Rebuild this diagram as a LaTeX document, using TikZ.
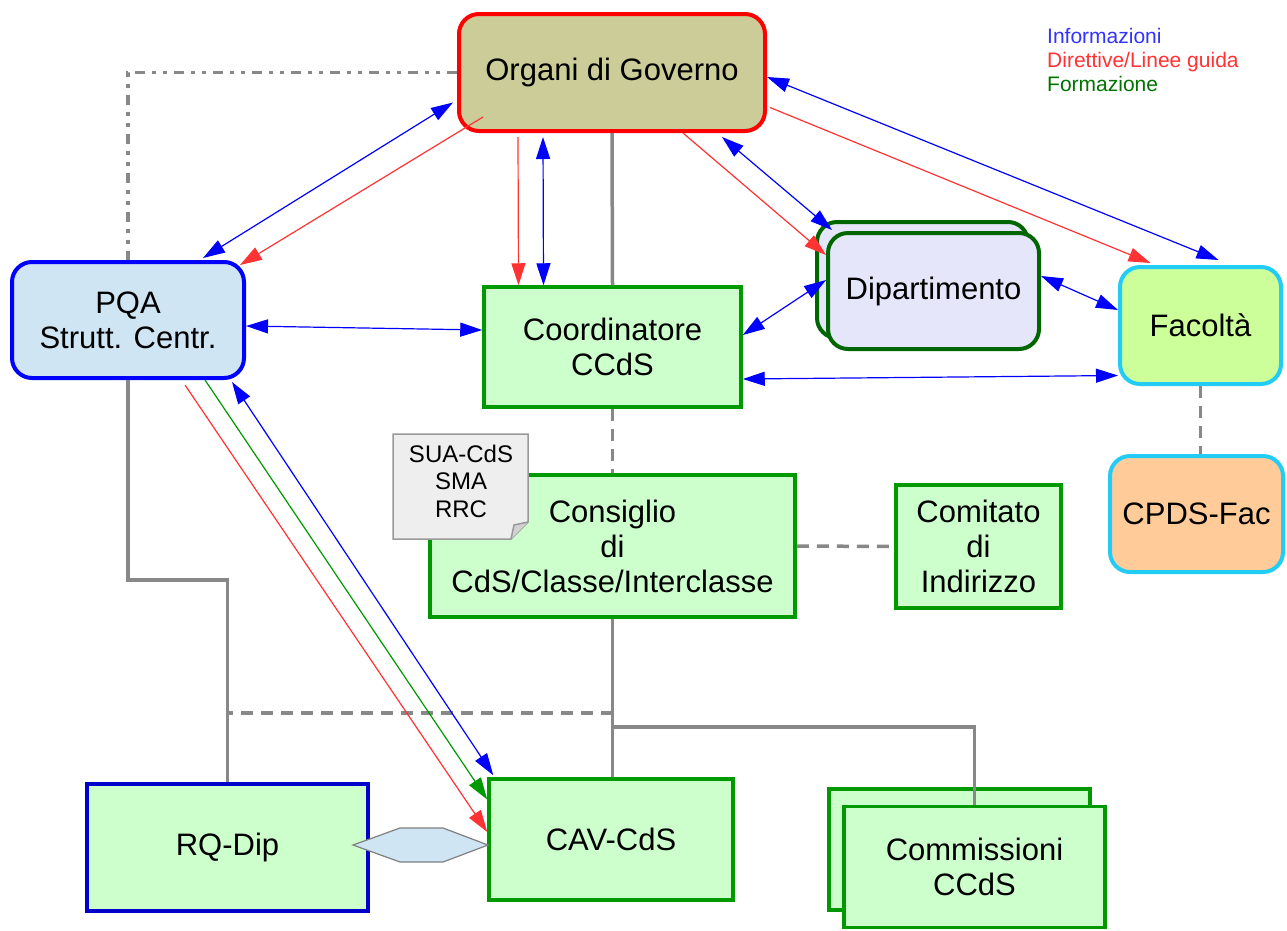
\documentclass[tikz,border=0pt]{standalone}
\usepackage{fontspec}
\setmainfont{Liberation Sans}
\usetikzlibrary{arrows.meta,calc}

\definecolor{govfill}{HTML}{CCCC99}
\definecolor{pqafill}{HTML}{CFE5F4}
\definecolor{boxgreen}{HTML}{009900}
\definecolor{greenfill}{HTML}{CCFFCC}
\definecolor{dipgreen}{HTML}{006600}
\definecolor{dipfill}{HTML}{E6E6FA}
\definecolor{faccyan}{HTML}{22CCF5}
\definecolor{facfill}{HTML}{CCFF99}
\definecolor{cpdsfill}{HTML}{FFCC99}
\definecolor{linegray}{HTML}{888888}
\definecolor{notefill}{HTML}{EEEEEE}
\definecolor{infoblue}{HTML}{0000FF}
\definecolor{dirred}{HTML}{FF3333}
\definecolor{formgreen}{HTML}{009900}

\begin{document}
\begin{tikzpicture}[x=1pt, y=-1pt,
    >={Triangle[length=22pt,width=14pt]},
    box/.style={draw, line width=4pt, align=center, inner sep=0pt,
        font=\fontsize{31}{35}\selectfont},
    roundbox/.style={box, rounded corners=20pt},
    greenbox/.style={box, draw=boxgreen, fill=greenfill, line width=3.5pt},
    info/.style={infoblue, line width=1.2pt, <->},
    dir/.style={dirred, line width=1.2pt, ->},
    form/.style={formgreen, line width=1.2pt, ->},
    link/.style={linegray, line width=3.5pt},
    dashlink/.style={link, dash pattern=on 12pt off 8pt},
    dotlink/.style={link, dash pattern=on 10pt off 7pt on 4pt off 7pt on 4pt off 7pt},
    ]
    \useasboundingbox[fill=white] (0,0) rectangle (1287,930);

    % boxes
    \node[roundbox, draw=red, fill=govfill, minimum width=306pt, minimum height=117pt]
        (gov) at (612,72.5) {Organi di Governo};
    \node[roundbox, draw=infoblue, fill=pqafill, minimum width=232pt, minimum height=116pt]
        (pqa) at (128,320) {PQA\\Strutt. Centr.};
    \node[greenbox, minimum width=257pt, minimum height=120pt]
        (coord) at (612.5,347) {Coordinatore\\CCdS};
    \node[roundbox, draw=dipgreen, fill=dipfill, minimum width=211pt, minimum height=116pt]
        (dipback) at (922.5,280) {};
    \node[roundbox, draw=dipgreen, fill=dipfill, minimum width=211pt, minimum height=116pt]
        (dip) at (933.5,291) {Dipartimento};
    \node[roundbox, draw=faccyan, fill=facfill, minimum width=161pt, minimum height=117pt]
        (fac) at (1200.5,325.5) {Facolt\`a};
    \node[roundbox, draw=faccyan, fill=cpdsfill, minimum width=173pt, minimum height=116pt]
        (cpds) at (1196.5,514) {CPDS-Fac};
    \node[greenbox, minimum width=365pt, minimum height=142pt]
        (cons) at (612.5,546) {Consiglio\\di\\CdS/Classe/Interclasse};
    \node[greenbox, minimum width=165pt, minimum height=123pt]
        (comit) at (978.5,546.5) {Comitato\\di\\Indirizzo};
    \node[box, draw=blue!80!black, fill=greenfill, minimum width=281pt, minimum height=127pt]
        (rq) at (227.5,847.5) {RQ-Dip};
    \node[greenbox, minimum width=244pt, minimum height=121pt]
        (cav) at (611,839.5) {CAV-CdS};
    \node[greenbox, minimum width=261pt, minimum height=121pt]
        (comback) at (959.5,849.5) {};
    \node[greenbox, minimum width=261pt, minimum height=121pt]
        (com) at (974.5,867) {Commissioni\\CCdS};

    % note on the Consiglio
    \draw[fill=notefill, draw=gray!80, line width=1.5pt]
        (393,434) -- (528,434) -- (528,522) -- (511,539) -- (393,539) -- cycle;
    \draw[fill=gray!35, draw=gray!80, line width=1.5pt]
        (528,522) -- (514,525) -- (511,539);
    \node[align=center, inner sep=0pt, font=\fontsize{24}{27.5}\selectfont]
        (note) at (461,481) {SUA-CdS\\SMA\\RRC};

    % hexagon between RQ-Dip and CAV-CdS
    \draw[fill=pqafill, draw=gray, line width=1.2pt]
        (353,845) -- (400,828) -- (443,828) -- (488,845) -- (443,862) -- (400,862) -- cycle;

    % legend
    \node[anchor=north west, align=left, inner sep=0pt, font=\fontsize{21}{24}\selectfont]
        (legend) at (1047,28)
        {\textcolor{blue!80!white}{Informazioni}\\
         \textcolor{dirred}{Direttive/Linee guida}\\
         \textcolor{green!45!black}{Formazione}};

    % gray links
    \draw[link] (gov.south) -- (coord.north);
    \draw[dashlink] (coord.south) -- (cons.north);
    \draw[link] (cons.south) -- (cons.south |- cav.north);
    \draw[link] ($(cons.south)+(0,108)$) -| (com.north);
    \draw[dashlink] ($(cons.south)+(0,94)$) -| (rq.north);
    \draw[link] (pqa.south) -- ++(0,200) -| (rq.north);
    \draw[dotlink] (gov.west) -| (pqa.north);
    \draw[dashlink] (cons.east) -- (comit.west);
    \draw[dashlink] (fac.south) -- (fac.south |- cpds.north);

    % information, directives and training
    \draw[info] ($(pqa.north)+(75,-2)$) -- ($(gov.west)+(-4,30)$);
    \draw[dir] ($(gov.south west)+(26,-16)$) -- ($(pqa.north east)+(-6,5)$);
    \draw[info] ($(pqa.east)+(0,6)$) -- ($(coord.west)+(0,-17)$);
    \draw[dir] ($(gov.south)+(-94,4)$) -- ($(coord.north)+(-94,0)$);
    \draw[info] ($(gov.south)+(-69,4)$) -- ($(coord.north)+(-69,0)$);
    \draw[dir] ($(gov.south)+(71,0)$) -- ($(dip.west)+(0,-36)$);
    \draw[info] ($(gov.south)+(110,4)$) -- ($(dip.north west)+(6,-1)$);
    \draw[info] ($(coord.east)+(0,-12)$) -- ($(dip.west)+(0,-11)$);
    \draw[info] ($(gov.east)+(0,4.5)$) -- ($(fac.north)+(18,-5)$);
    \draw[dir] ($(gov.east)+(3,35)$) -- ($(fac.north)+(-50,-2)$);
    \draw[info] ($(dip.east)+(0,-15)$) -- ($(fac.west)+(0,-15.5)$);
    \draw[info] ($(coord.east)+(0,32)$) -- ($(fac.west)+(0,50)$);
    \draw[dir] ($(pqa.south)+(57,5)$) -- ($(cav.west)+(0,-7.5)$);
    \draw[form] ($(pqa.south)+(77,0)$) -- ($(cav.west)+(0,-40)$);
    \draw[info] ($(pqa.south east)+(-14,2)$) -- ($(cav.north west)+(6,-2)$);
\end{tikzpicture}
\end{document}
